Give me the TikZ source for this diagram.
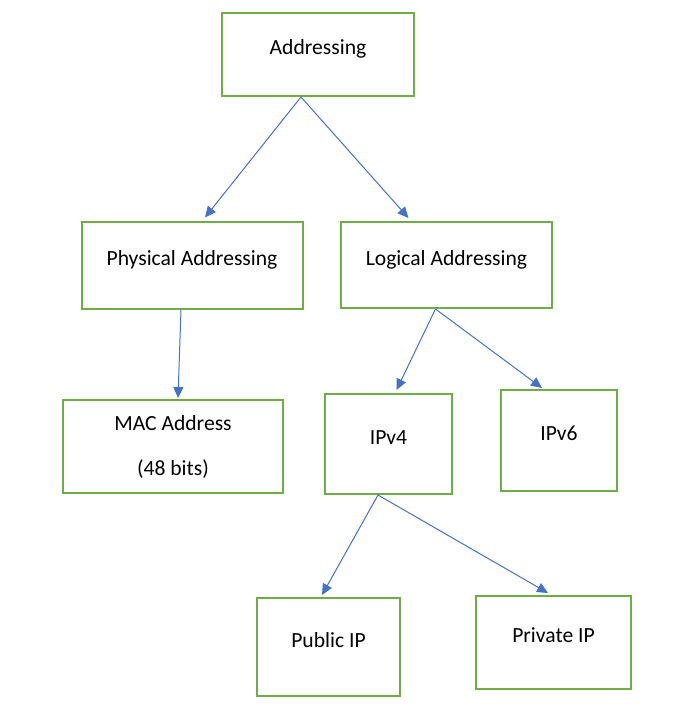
\documentclass[tikz,border=0pt]{standalone}
\usepackage{fontspec}
\setmainfont{Carlito}
\usepackage{tikz}
\usetikzlibrary{arrows.meta}

\definecolor{boxgreen}{HTML}{70AD47}
\definecolor{arrblue}{HTML}{4472C4}

\begin{document}
\begin{tikzpicture}[
  x=1pt, y=-1pt,
  every node/.style={font=\fontsize{21.6}{26}\selectfont},
  boxbase/.style={draw=boxgreen, line width=2pt, inner sep=0pt, align=center},
  box/.style={boxbase, text height=8pt, text depth=8pt},
  arr/.style={draw=arrblue, line width=1pt, -{Triangle[length=11pt,width=10pt]}},
]
\useasboundingbox (0,0) rectangle (697,712);
\node[box, minimum width=192pt, minimum height=83pt] (addr) at (318, 54.5) {Addressing};
\node[box, minimum width=221pt, minimum height=87pt] (phys) at (192, 265) {Physical Addressing};
\node[box, minimum width=211pt, minimum height=86pt] (logi) at (446.5, 265) {Logical Addressing};
\node[boxbase, minimum width=220pt, minimum height=93pt] (mac) at (173, 446.5)
  {MAC Address\\[19pt](48 bits)};
\node[box, minimum width=127pt, minimum height=100pt] (ipv4) at (388.5, 444) {IPv4};
\node[box, minimum width=116pt, minimum height=101pt] (ipv6) at (559, 440.5) {IPv6};
\node[box, minimum width=143pt, minimum height=98pt] (pub) at (328.5, 647) {Public IP};
\node[box, minimum width=155pt, minimum height=93pt] (priv) at (553.5, 642.5) {Private IP};
\draw[arr] ([xshift=-17pt]addr.south) -- ([xshift=13pt, yshift=3pt]phys.north);
\draw[arr] ([xshift=-17pt]addr.south) -- ([xshift=-38pt, yshift=3pt]logi.north);
\draw[arr] ([xshift=-11pt]phys.south) -- ([xshift=5pt, yshift=1pt]mac.north);
\draw[arr] ([xshift=-11pt]logi.south) -- ([xshift=8pt, yshift=3pt]ipv4.north);
\draw[arr] ([xshift=-11pt]logi.south) -- ([xshift=-17pt, yshift=1pt]ipv6.north);
\draw[arr] ([xshift=-10.5pt]ipv4.south) -- ([xshift=-6.5pt, yshift=2pt]pub.north);
\draw[arr] ([xshift=-10.5pt]ipv4.south) -- ([xshift=-5.5pt, yshift=2pt]priv.north);
\end{tikzpicture}
\end{document}
